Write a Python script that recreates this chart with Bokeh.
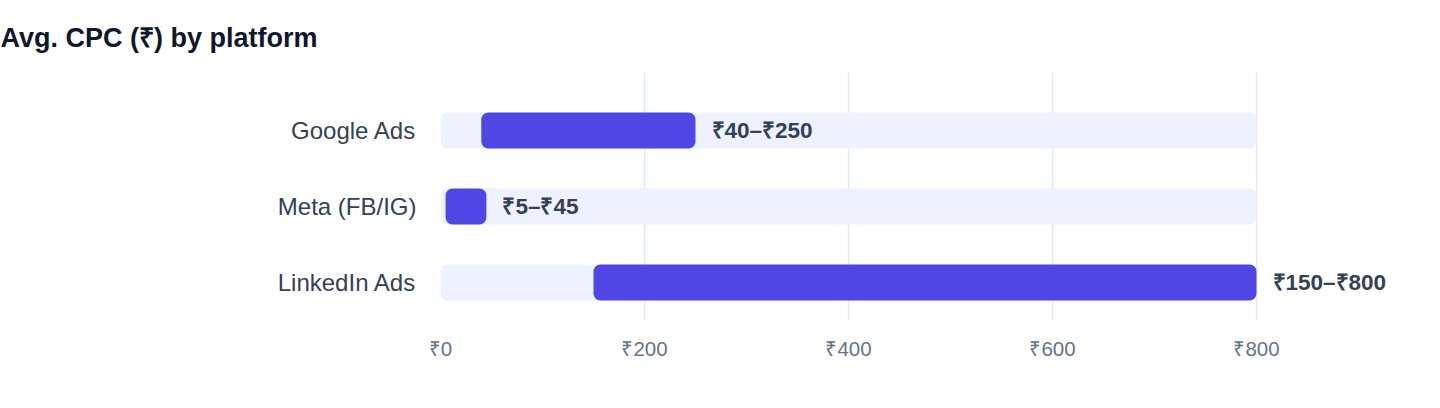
from bokeh.plotting import figure
from bokeh.models import Range1d, FixedTicker, ColumnDataSource
from bokeh.core.properties import value
from bokeh.embed import file_html
from bokeh.resources import INLINE

# ---- data ----
platforms = ["Google Ads", "Meta (FB/IG)", "LinkedIn Ads"]
cpc_low = [40, 5, 150]
cpc_high = [250, 45, 800]
scale_max = 800
x_ticks = [0, 200, 400, 600, 800]
tick_labels = ["₹0", "₹200", "₹400", "₹600", "₹800"]
chart_title = "Avg. CPC (₹) by platform"

FONT = "Liberation Sans"
ypos = list(range(len(platforms)))
labels = [f"₹{lo}–₹{hi}" for lo, hi in zip(cpc_low, cpc_high)]

src = ColumnDataSource(dict(
    y=ypos, low=cpc_low, high=cpc_high, label=labels,
    zero=[0] * len(platforms), full=[scale_max] * len(platforms),
))

W, H = 1432, 400
p = figure(
    width=W, height=H, output_backend="svg", toolbar_location=None,
    x_range=Range1d(0, 960.78), y_range=Range1d(2.5, -0.763),
    min_border_left=440, min_border_right=W - 1420, min_border_top=72,
    min_border_bottom=H - 320,
    title=chart_title,
)
p.outline_line_color = None
p.background_fill_color = "white"
p.border_fill_color = "white"

p.title.text_font = FONT
p.title.text_font_size = "27px"
p.title.text_font_style = "bold"
p.title.text_color = "#0f172a"
p.title.align = "left"
p.title.offset = -440
p.title.standoff = 40

bar_h = 0.474
p.hbar(y="y", left="zero", right="full", height=bar_h, source=src,
       fill_color="#eef2ff", line_color=None, border_radius=7)
p.hbar(y="y", left="low", right="high", height=bar_h, source=src,
       fill_color="#4f46e5", line_color=None, border_radius=7)
p.text(x="high", y="y", text="label", source=src, x_offset=16,
       text_align="left", text_baseline="middle",
       text_font=value(FONT), text_font_style="bold",
       text_font_size="22.5px", text_color="#334155")

xa = p.xaxis[0]
xa.ticker = FixedTicker(ticks=x_ticks)
xa.major_label_overrides = {t: l for t, l in zip(x_ticks, tick_labels)}
xa.axis_line_color = None
xa.major_tick_line_color = None
xa.minor_tick_line_color = None
xa.major_label_text_font = FONT
xa.major_label_text_font_size = "20.5px"
xa.major_label_text_color = "#64748b"
xa.major_label_standoff = 10

ya = p.yaxis[0]
ya.ticker = FixedTicker(ticks=ypos)
ya.major_label_overrides = {i: n for i, n in zip(ypos, platforms)}
ya.axis_line_color = None
ya.major_tick_line_color = None
ya.minor_tick_line_color = None
ya.major_label_text_font = FONT
ya.major_label_text_font_size = "24px"
ya.major_label_text_color = "#334155"
ya.major_label_standoff = 18

p.xgrid.ticker = FixedTicker(ticks=x_ticks)
p.xgrid.grid_line_color = "#e2e8f0"
p.xgrid.grid_line_width = 1.5
p.ygrid.grid_line_color = None

open("out.html", "w").write(file_html(p, INLINE))
